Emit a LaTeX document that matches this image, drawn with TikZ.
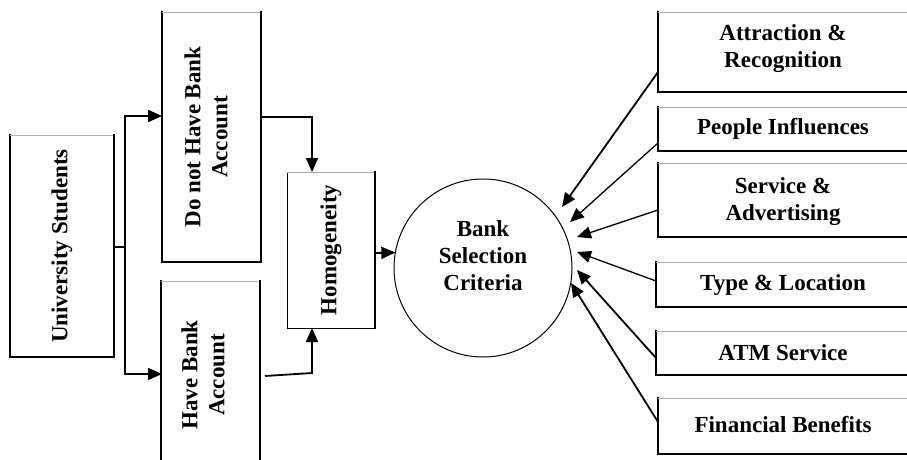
\documentclass[tikz,border=0pt]{standalone}
\usepackage{fontspec}
\setmainfont{Liberation Serif}
\usetikzlibrary{arrows.meta}
\begin{document}
\begin{tikzpicture}[x=1pt,y=-1pt,
  lbl/.style={font=\bfseries\fontsize{23}{27}\selectfont, align=center, inner sep=0pt},
  box/.style={inner sep=0pt, outer sep=0pt},
  thickedge/.style={line width=2pt, line cap=rect},
  thinedge/.style={line width=0.8pt, gray!60},
  ln/.style={line width=1.8pt},
  arr/.style={line width=1.8pt, -{Triangle[length=14pt,width=12pt]}}]
\path[use as bounding box, clip] (0,0) rectangle (907,460);

% boxes
\node[box, minimum width=104pt, minimum height=222pt] (us) at (62,246) {};
\node[box, minimum width=99pt, minimum height=250pt] (dn) at (211.5,137) {};
\node[box, minimum width=99pt, minimum height=189pt] (hb) at (210.5,375.5) {};
\node[box, minimum width=88pt, minimum height=156pt] (hom) at (331,250) {};
\node[box, circle, draw, line width=1pt, minimum size=178pt] (circ) at (483,268) {};

\node[box, minimum width=250pt, minimum height=80pt] (att) at (783,52) {};
\node[box, minimum width=250pt, minimum height=44pt] (ppl) at (783,129) {};
\node[box, minimum width=250pt, minimum height=74pt] (srv) at (783,200) {};
\node[box, minimum width=252pt, minimum height=45pt] (typ) at (782,284.5) {};
\node[box, minimum width=252pt, minimum height=44pt] (atm) at (782,353) {};
\node[box, minimum width=250pt, minimum height=56pt] (fin) at (783,426) {};

% box edges
\foreach \b in {us,dn,hb,att,ppl,srv,typ,atm,fin}{
  \draw[thickedge] (\b.north west) -- (\b.south west) -- (\b.south east);
  \draw[thinedge] (\b.north west) -- (\b.north east);
}
\foreach \b in {us,dn,hb}{
  \draw[thickedge] (\b.south east) -- (\b.north east);
}
\draw[line width=1pt] (hom.north west) -- (hom.south west) -- (hom.south east);
\draw[thinedge] (hom.north west) -- (hom.north east);
\draw[thickedge] (hom.south east) -- (hom.north east);

% labels
\node[lbl, rotate=90] (usl) at (us.center) {University Students};
\node[lbl, rotate=90] (dnl) at (206,137) {Do not Have Bank\\Account};
\node[lbl, rotate=90] (hbl) at (203,375) {Have Bank\\Account};
\node[lbl, rotate=90] (homl) at (hom.center) {Homogeneity};
\node[lbl] (circl) at (483,256) {Bank\\Selection\\Criteria};
\node[lbl] (attl) at (783,49) {Attraction \&\\Recognition};
\node[lbl] (ppll) at (783,129) {People Influences};
\node[lbl] (srvl) at (783,202) {Service \&\\Advertising};
\node[lbl] (typl) at (783,284.5) {Type \& Location};
\node[lbl] (atml) at (783,353) {ATM Service};
\node[lbl] (finl) at (783,425) {Financial Benefits};

% connector points
\coordinate (split) at (125,247);
\coordinate (dnin) at (162,116);
\coordinate (hbin) at (162,374);
\coordinate (dnout) at (261,117);
\coordinate (hbout) at (265,376);
\coordinate (homtop) at (312,172);
\coordinate (hombot) at (312,328);
\coordinate (homout) at (375,253);
\coordinate (e1) at (562,207);
\coordinate (e2) at (570,222);
\coordinate (e3) at (577,237);
\coordinate (e4) at (577,252);
\coordinate (e5) at (577,270);
\coordinate (e6) at (571,283);
\coordinate (s1) at (658,72);
\coordinate (s2) at (658,143);
\coordinate (s3) at (658,210);
\coordinate (s4) at (656,281);
\coordinate (s5) at (656,358);
\coordinate (s6) at (658,422);

% connectors
\draw[ln] (us.east |- split) -- (split);
\draw[arr] (split) |- (dnin);
\draw[arr] (split) |- (hbin);
\draw[arr] (dnout) -| (homtop);
\draw[arr] (hbout) -- (312,373) -- (hombot);
\draw[arr] (homout) -- (circ.170);
\draw[arr] (s1) -- (e1);
\draw[arr, line width=1.3pt] (s2) -- (e2);
\draw[arr, line width=1.3pt] (s3) -- (e3);
\draw[arr, line width=1.3pt] (s4) -- (e4);
\draw[arr] (s5) -- (e5);
\draw[arr] (s6) -- (e6);
\end{tikzpicture}
\end{document}
